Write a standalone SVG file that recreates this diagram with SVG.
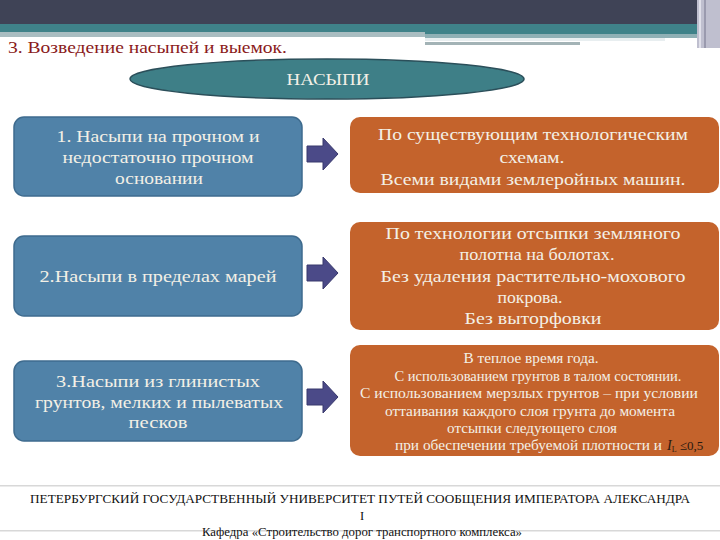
<svg xmlns="http://www.w3.org/2000/svg" width="720" height="540" viewBox="0 0 720 540">
<style>
.blue{fill:#5082a8;stroke:#3e6b8e;stroke-width:1.5}
.orange{fill:#c4632c}
.arrow{fill:#4b4a88;stroke:#38386c;stroke-width:1}
.t{font-family:"Liberation Serif","DejaVu Serif",serif;fill:#f3f0e6;text-anchor:middle}
.big{font-size:17.5px}
.small{font-size:14px}
.foot{font-family:"Liberation Serif","DejaVu Serif",serif;font-size:12.5px;fill:#111;text-anchor:middle}
</style>
<rect width="720" height="540" fill="#ffffff"/>
<g id="header">
<rect x="0" y="0" width="720" height="25" fill="#3f4356"/>
<rect x="0" y="24" width="697" height="10" fill="#3f8289"/>
<rect x="0" y="32" width="425" height="5" fill="#a9bdc1"/>
<rect x="425" y="34" width="272" height="4" fill="#8fb0b5"/>
<rect x="425" y="38" width="240" height="3" fill="#e8eef0"/>
<rect x="425" y="42" width="155" height="3" fill="#a3b3b6"/>
<rect x="697" y="0" width="23" height="48" fill="#bfbfcf"/>
<rect x="699" y="0" width="2" height="48" fill="#e0e0ea"/>
<rect x="704" y="0" width="2" height="48" fill="#9a9aae"/>
<text x="8" y="53" font-family="Liberation Serif,DejaVu Serif,serif" font-size="17px" fill="#8a1a1a" textLength="279" lengthAdjust="spacingAndGlyphs">3. Возведение насыпей и выемок.</text>
</g>
<g id="nasypi">
<ellipse cx="327" cy="79" rx="197" ry="20" fill="#3e7f87" stroke="#2b4f5a" stroke-width="1.5"/>
<text class="t" x="328" y="85" font-size="17px" textLength="83" lengthAdjust="spacingAndGlyphs">НАСЫПИ</text>
</g>
<g id="left1">
<rect class="blue" x="14" y="117" width="288" height="79" rx="10"/>
<text class="t big" x="158" y="142" textLength="203" lengthAdjust="spacingAndGlyphs">1. Насыпи на прочном и</text>
<text class="t big" x="158" y="163" textLength="191" lengthAdjust="spacingAndGlyphs">недостаточно прочном</text>
<text class="t big" x="159" y="184" textLength="88" lengthAdjust="spacingAndGlyphs">основании</text>
</g>
<g id="left2">
<rect class="blue" x="14" y="236" width="288" height="80" rx="10"/>
<text class="t big" x="158" y="282" textLength="237" lengthAdjust="spacingAndGlyphs">2.Насыпи  в пределах марей</text>
</g>
<g id="left3">
<rect class="blue" x="14" y="361" width="288" height="80" rx="10"/>
<text class="t big" x="158" y="387" textLength="204" lengthAdjust="spacingAndGlyphs">3.Насыпи  из глинистых</text>
<text class="t big" x="159" y="408" textLength="248" lengthAdjust="spacingAndGlyphs">грунтов, мелких и пылеватых</text>
<text class="t big" x="158" y="428" textLength="59" lengthAdjust="spacingAndGlyphs">песков</text>
</g>
<g id="right1">
<rect class="orange" x="350" y="117" width="369" height="76" rx="10"/>
<text class="t big" x="533" y="140" textLength="310" lengthAdjust="spacingAndGlyphs">По существующим технологическим</text>
<text class="t big" x="532" y="163" textLength="65" lengthAdjust="spacingAndGlyphs">схемам.</text>
<text class="t big" x="533" y="185" textLength="305" lengthAdjust="spacingAndGlyphs">Всеми видами землеройных машин.</text>
</g>
<g id="right2">
<rect class="orange" x="350" y="222" width="369" height="108" rx="10"/>
<text class="t big" x="533" y="239" textLength="295" lengthAdjust="spacingAndGlyphs">По технологии отсыпки земляного</text>
<text class="t big" x="537" y="260" textLength="155" lengthAdjust="spacingAndGlyphs">полотна на болотах.</text>
<text class="t big" x="533" y="282" textLength="305" lengthAdjust="spacingAndGlyphs">Без удаления растительно-мохового</text>
<text class="t big" x="530" y="303" textLength="65" lengthAdjust="spacingAndGlyphs">покрова.</text>
<text class="t big" x="533" y="324" textLength="137" lengthAdjust="spacingAndGlyphs">Без выторфовки</text>
</g>
<g id="right3">
<rect class="orange" x="350" y="345" width="369" height="111" rx="10"/>
<text class="t small" x="531" y="363" textLength="135" lengthAdjust="spacingAndGlyphs">В теплое время года.</text>
<text class="t small" x="538" y="381" textLength="287" lengthAdjust="spacingAndGlyphs">С использованием грунтов в талом состоянии.</text>
<text class="t small" x="529" y="398" textLength="338" lengthAdjust="spacingAndGlyphs">С использованием  мерзлых грунтов – при условии</text>
<text class="t small" x="530" y="416" textLength="290" lengthAdjust="spacingAndGlyphs">оттаивания каждого слоя грунта до момента</text>
<text class="t small" x="532" y="433" textLength="170" lengthAdjust="spacingAndGlyphs">отсыпки следующего слоя</text>
<text class="t small" x="395" y="450" style="text-anchor:start" textLength="267" lengthAdjust="spacingAndGlyphs">при обеспечении требуемой плотности и</text>
<text class="t small" x="667" y="450" style="text-anchor:start;fill:#2a1a10"><tspan font-style="italic">I</tspan><tspan font-size="8px" dy="2">L</tspan><tspan dy="-2" font-size="13px"> ≤0,5</tspan></text>
</g>
<g id="connectors">
<path class="arrow" d="M307,146 H323 V138 L338,154 L323,170 V162 H307 Z"/>
<path class="arrow" d="M307,265 H323 V257 L338,273 L323,289 V281 H307 Z"/>
<path class="arrow" d="M307,389 H323 V381 L338,397 L323,413 V405 H307 Z"/>
</g>
<g id="footer">
<rect x="0" y="485" width="720" height="1.5" fill="#d8d8d8"/>
<rect x="0" y="530" width="720" height="1.5" fill="#d8d8d8"/>
<text class="foot" x="360" y="503" textLength="660" lengthAdjust="spacingAndGlyphs">ПЕТЕРБУРГСКИЙ ГОСУДАРСТВЕННЫЙ УНИВЕРСИТЕТ ПУТЕЙ СООБЩЕНИЯ ИМПЕРАТОРА АЛЕКСАНДРА</text>
<text class="foot" x="362" y="520">I</text>
<text class="foot" x="362" y="536" textLength="320" lengthAdjust="spacingAndGlyphs">Кафедра «Строительство дорог транспортного комплекса»</text>
</g>
</svg>
